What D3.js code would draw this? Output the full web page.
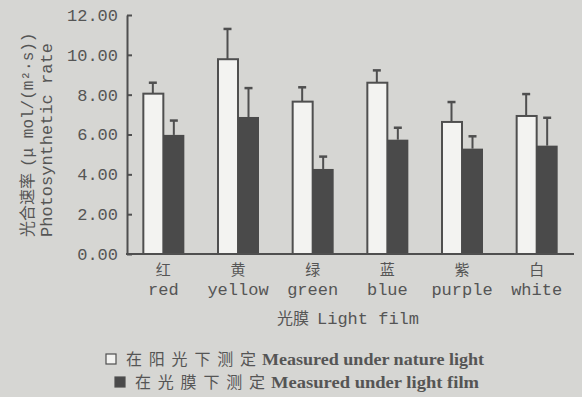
<!DOCTYPE html>
<html lang="zh">
<head>
<meta charset="UTF-8">
<title>Photosynthetic rate under light films</title>
<script src="https://d3js.org/d3.v7.min.js"></script>
<style>
  body { margin: 0; background: #d6d6d3; overflow: hidden; }
  svg { display: block; }
  .mono { font-family: "Liberation Mono", "DejaVu Sans Mono", monospace; }
  .cjk { font-family: "Noto Sans CJK SC", sans-serif; }
</style>
</head>
<body>
<div id="chart"></div>
<script>
// data
const categoriesZh = ["红", "黄", "绿", "蓝", "紫", "白"];
const categoriesEn = ["red", "yellow", "green", "blue", "purple", "white"];
const natureLight = [8.05, 9.78, 7.65, 8.6, 6.63, 6.93];
const natureErr   = [0.55, 1.52, 0.72, 0.62, 1.0, 1.1];
const filmLight   = [5.98, 6.88, 4.27, 5.74, 5.29, 5.44];
const filmErr     = [0.72, 1.45, 0.62, 0.6, 0.62, 1.4];
const yTicks = [0, 2, 4, 6, 8, 10, 12];

const W = 582, H = 397;
const ink = "#4f4f4f";

const svg = d3.select("#chart").append("svg")
    .attr("width", W)
    .attr("height", H);

svg.append("rect").attr("width", W).attr("height", H).attr("fill", "#d6d6d3");

const y = d3.scaleLinear().domain([0, 12]).range([254, 15]);
const x = d3.scaleBand().domain(categoriesEn).range([126, 574]);
const barW = 21;
const inner = d3.scaleBand().domain(["nature", "film"]).range([-barW, barW]);

const rows = categoriesEn.map((c, i) => ({
    cat: c,
    zh: categoriesZh[i],
    nature: natureLight[i], natureErr: natureErr[i],
    film: filmLight[i], filmErr: filmErr[i]
}));

// bars
const groups = svg.selectAll(".grp")
    .data(rows)
    .enter().append("g")
    .attr("transform", d => `translate(${x(d.cat) + x.bandwidth() / 2},0)`);

const bars = groups.selectAll(".bar")
    .data(d => [
        { key: "nature", v: d.nature, e: d.natureErr },
        { key: "film", v: d.film, e: d.filmErr }
    ])
    .enter().append("g");

// error bars first so the bar top covers the stem
bars.append("line")
    .attr("x1", d => inner(d.key) + barW / 2)
    .attr("x2", d => inner(d.key) + barW / 2)
    .attr("y1", d => y(d.v))
    .attr("y2", d => y(d.v + d.e))
    .attr("stroke", ink).attr("stroke-width", 2);

bars.append("line")
    .attr("x1", d => inner(d.key) + barW / 2 - 4)
    .attr("x2", d => inner(d.key) + barW / 2 + 4)
    .attr("y1", d => y(d.v + d.e))
    .attr("y2", d => y(d.v + d.e))
    .attr("stroke", ink).attr("stroke-width", 2.5);

bars.append("rect")
    .attr("x", d => inner(d.key) + (d.key === "nature" ? 1 : 0))
    .attr("width", d => d.key === "nature" ? barW - 1 : barW)
    .attr("y", d => y(d.v))
    .attr("height", d => y(0) - y(d.v))
    .attr("fill", d => d.key === "nature" ? "#f3f3f1" : "#4a4a4a")
    .attr("stroke", d => d.key === "nature" ? ink : "none")
    .attr("stroke-width", 2);

// y axis, ticks pointing inward
const yAxis = svg.append("g")
    .attr("transform", "translate(127,0)")
    .call(d3.axisLeft(y).tickValues(yTicks).tickSizeInner(-5).tickSizeOuter(0)
        .tickPadding(9).tickFormat(d3.format(".2f")));
yAxis.select(".domain").attr("stroke", ink).attr("stroke-width", 2);
yAxis.selectAll(".tick line").attr("stroke", ink).attr("stroke-width", 2);
yAxis.selectAll(".tick text")
    .attr("class", "mono")
    .attr("fill", "#555")
    .style("font-size", "17px");

// x axis line
const xAxis = svg.append("g")
    .attr("transform", "translate(0,254)")
    .call(d3.axisBottom(x).tickSize(0).tickFormat(""));
xAxis.select(".domain")
    .attr("d", "M126,0H574")
    .attr("stroke", ink).attr("stroke-width", 2);
xAxis.selectAll(".tick text").remove();

const xTick = xAxis.selectAll(".tick");
xTick.append("text")
    .attr("class", "cjk")
    .attr("y", 21)
    .attr("text-anchor", "middle")
    .attr("fill", "#555")
    .style("font-size", "15px")
    .text((d, i) => categoriesZh[i]);
xTick.append("text")
    .attr("class", "mono")
    .attr("y", 41)
    .attr("text-anchor", "middle")
    .attr("fill", "#555")
    .style("font-size", "17px")
    .text(d => d);

// x title
const xt = svg.append("text")
    .attr("x", 348).attr("y", 324)
    .attr("text-anchor", "middle")
    .attr("fill", "#555");
xt.append("tspan").attr("class", "cjk").style("font-size", "16px").text("光膜");
xt.append("tspan").attr("class", "mono").attr("dx", 8).style("font-size", "17px").text("Light film");

// y title (two lines, rotated)
const yt1 = svg.append("text")
    .attr("transform", "translate(33,237) rotate(-90)")
    .attr("fill", "#555");
yt1.append("tspan").attr("class", "cjk").style("font-size", "16px").text("光合速率");
yt1.append("tspan").attr("class", "mono").attr("dx", 6).style("font-size", "16px").text("(μ mol/(m²·s))");

svg.append("text")
    .attr("transform", "translate(52,237) rotate(-90)")
    .attr("class", "mono")
    .attr("fill", "#555")
    .style("font-size", "17px")
    .text("Photosynthetic rate");

// legend
const legend = [
    { zh: "在阳光下测定", en: "Measured under nature light", fill: "#f3f3f1", x: 106, y: 365 },
    { zh: "在光膜下测定", en: "Measured under light film", fill: "#4a4a4a", x: 115, y: 388 }
];
const lg = svg.selectAll(".lg")
    .data(legend)
    .enter().append("g");
lg.append("rect")
    .attr("x", d => d.x).attr("y", d => d.y - 11)
    .attr("width", 10).attr("height", 10)
    .attr("fill", d => d.fill)
    .attr("stroke", ink).attr("stroke-width", 1.2);
lg.append("text")
    .attr("class", "cjk")
    .attr("x", d => d.x + 20).attr("y", d => d.y)
    .attr("fill", "#555")
    .style("font-size", "16px")
    .attr("textLength", 130)
    .attr("lengthAdjust", "spacing")
    .text(d => d.zh);
lg.append("text")
    .attr("x", d => d.x + 156).attr("y", d => d.y)
    .attr("fill", "#555")
    .style("font-family", "'Liberation Serif', serif")
    .style("font-weight", "bold")
    .style("font-size", "17px")
    .attr("textLength", d => d.en.length === 27 ? 222 : 208)
    .attr("lengthAdjust", "spacingAndGlyphs")
    .text(d => d.en);
</script>
</body>
</html>
